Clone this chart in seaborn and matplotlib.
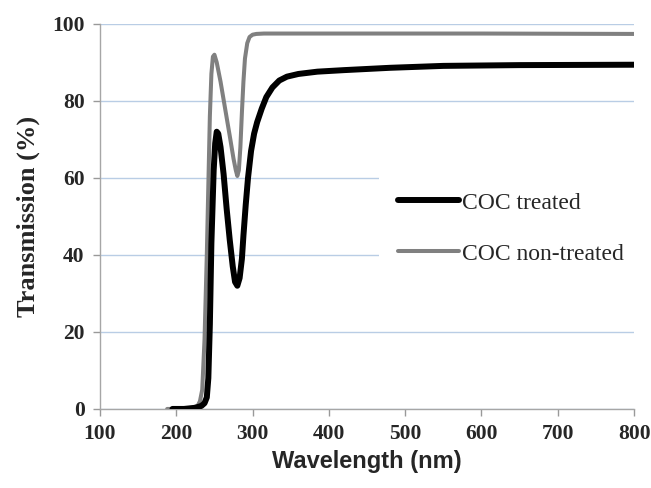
import pandas as pd
import seaborn as sns
import matplotlib.pyplot as plt

# wavelength (nm) and transmission (%)
wl_treated = [195, 210, 225, 233, 237, 240, 242, 244, 246, 249, 251, 253, 255, 258, 262,
              266, 270, 274, 277, 280, 283, 286, 288, 291, 294, 298, 302, 306, 312, 318,
              326, 335, 345, 360, 385, 420, 480, 550, 650, 800]
tr_treated = [0, 0, 0.3, 0.8, 1.5, 3, 8, 22, 43, 62, 69, 72, 71.5, 68, 61,
              52, 44, 37, 33, 32, 34, 39, 45, 53, 60, 67, 71.5, 74.5, 78, 81,
              83.5, 85.3, 86.3, 87, 87.6, 88, 88.6, 89.1, 89.3, 89.4]

wl_nontreated = [188, 205, 220, 228, 231, 234, 237, 240, 242, 244, 246, 248, 250, 253, 258,
                 264, 270, 275, 278, 280, 282, 284, 286, 288, 290, 293, 296, 300, 305, 315,
                 400, 500, 600, 800]
tr_nontreated = [0, 0, 0.3, 0.8, 2, 5, 18, 40, 58, 76, 87, 91.5, 92, 90, 85,
                 78, 71, 65, 62, 60.5, 62, 68, 77, 85, 91, 95, 96.6, 97.2, 97.4, 97.5,
                 97.5, 97.5, 97.5, 97.4]

labels = ['COC treated', 'COC non-treated']
x_ticks = [100, 200, 300, 400, 500, 600, 700, 800]
y_ticks = [0, 20, 40, 60, 80, 100]

sns.set_style('white')
plt.rcParams['font.family'] = ['Liberation Serif', 'DejaVu Serif']

fig = plt.figure(figsize=(6.51, 4.88), dpi=100)
ax = fig.add_axes([0.1536, 0.162, 0.8204, 0.789])

sns.lineplot(x=wl_treated, y=tr_treated, ax=ax, color='black', linewidth=4.3,
             label=labels[0], sort=False, solid_joinstyle='round', solid_capstyle='round', zorder=3)
sns.lineplot(x=wl_nontreated, y=tr_nontreated, ax=ax, color='#808080', linewidth=2.9,
             label=labels[1], sort=False, solid_joinstyle='round', solid_capstyle='round', zorder=2)

ax.set_xlim(100, 800)
ax.set_ylim(0, 100)
ax.set_xticks(x_ticks)
ax.set_yticks(y_ticks)
ax.yaxis.grid(True, color='#b9cde5', linewidth=1.0)
ax.set_axisbelow(True)
for side in ['top', 'right']:
    ax.spines[side].set_visible(False)
for side in ['left', 'bottom']:
    ax.spines[side].set_color('#a6a6a6')
    ax.spines[side].set_linewidth(1.0)
ax.tick_params(axis='both', which='major', direction='out', length=5, width=1,
               color='#999999', labelsize=15.5, pad=6, bottom=True, left=True)
for t in ax.get_xticklabels() + ax.get_yticklabels():
    t.set_fontweight('bold')

ax.set_xlabel('Wavelength (nm)', fontsize=17, fontweight='bold',
              family=['Liberation Sans', 'DejaVu Sans'], labelpad=4)
ax.set_ylabel('Transmission (%)', fontsize=19, fontweight='bold', labelpad=9)

leg = ax.legend(loc='upper left', bbox_to_anchor=(0.5225, 0.612, 0.5, 0), mode='expand',
                borderaxespad=0, frameon=True, facecolor='white', edgecolor='none',
                framealpha=1, fontsize=17, handlelength=2.6, handletextpad=0.12,
                labelspacing=1.25, borderpad=0.8)
leg.set_clip_on(False)

plt.savefig('out.png', dpi=100)
